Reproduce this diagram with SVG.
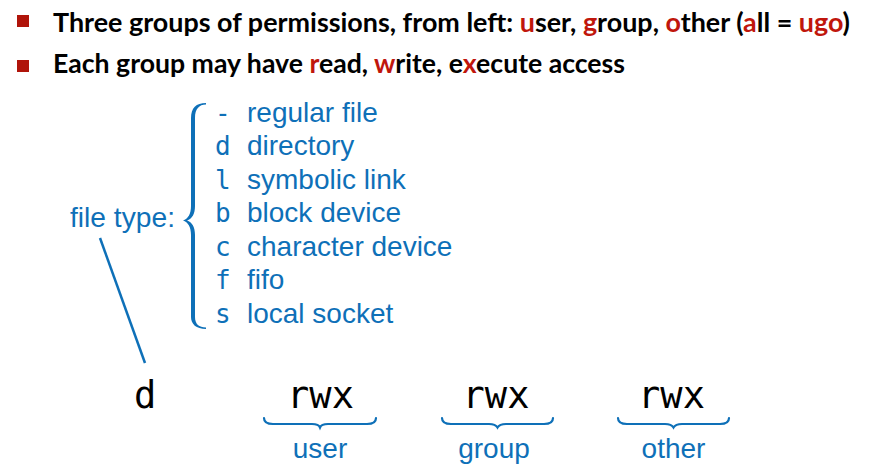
<svg xmlns="http://www.w3.org/2000/svg" width="891" height="469" viewBox="0 0 891 469">
<style>
.hdr{font-family:Lato,"Liberation Sans",sans-serif;font-weight:bold;font-size:26.5px;fill:#000}
.red{fill:#C0160C}
.bul{fill:#B0140A}
.blue{font-family:"Liberation Sans",Arial,sans-serif;font-size:28px;fill:#0E70B8}
.mono{font-family:"DejaVu Sans Mono",monospace;font-size:26px;fill:#0E70B8}
.big{font-family:"DejaVu Sans Mono",monospace;font-size:37px;fill:#000}
.brace{fill:#0E70B8}
.hb{fill:none;stroke:#0E70B8;stroke-width:2.2;stroke-linecap:round}
.conn{stroke:#0E70B8;stroke-width:2.5;fill:none}
</style>
<rect width="891" height="469" fill="#fff"/>
<g id="header">
<rect class="bul" x="17" y="15" width="12" height="12"/>
<rect class="bul" x="17" y="60" width="12" height="12"/>
<text class="hdr" x="53" y="31.5" textLength="797" lengthAdjust="spacingAndGlyphs">Three groups of permissions, from left: <tspan class="red">u</tspan>ser, <tspan class="red">g</tspan>roup, <tspan class="red">o</tspan>ther (<tspan class="red">a</tspan>ll = <tspan class="red">ugo</tspan>)</text>
<text class="hdr" x="53" y="73" textLength="572" lengthAdjust="spacingAndGlyphs">Each group may have <tspan class="red">r</tspan>ead, <tspan class="red">w</tspan>rite, e<tspan class="red">x</tspan>ecute access</text>
</g>
<g id="filetype-label">
<text class="blue" x="70" y="227" textLength="105" lengthAdjust="spacingAndGlyphs">file type:</text>
</g>
<g id="filetype-brace">
<path class="brace" d="M206,103 C196,103 191,108 191,118 L191,206 C191,214 188,219 183,220.5 C188,222 191,227 191,235 L191,317 C191,324 196,329 206,329 L206,327.5 C199,327.5 195,324 195,317 L195,235 C195,227 192,222 187,220.5 C192,219 195,214 195,206 L195,118 C195,109 199,104.5 206,104.5 Z"/>
</g>
<g id="filetype-list">
<text class="mono" x="215" y="121.5">-</text><text class="blue" x="247" y="121.5">regular file</text>
<text class="mono" x="215" y="155">d</text><text class="blue" x="247" y="155">directory</text>
<text class="mono" x="215" y="188.5">l</text><text class="blue" x="247" y="188.5">symbolic link</text>
<text class="mono" x="215" y="222">b</text><text class="blue" x="247" y="222">block device</text>
<text class="mono" x="215" y="255.5">c</text><text class="blue" x="247" y="255.5">character device</text>
<text class="mono" x="215" y="289">f</text><text class="blue" x="247" y="289">fifo</text>
<text class="mono" x="215" y="322.5">s</text><text class="blue" x="247" y="322.5">local socket</text>
</g>
<g id="connectors">
<line class="conn" x1="100" y1="238" x2="145" y2="363"/>
</g>
<g id="type-char">
<text class="big" x="134" y="408">d</text>
</g>
<g id="user">
<text class="big" x="320.5" y="408" text-anchor="middle">rwx</text>
<path class="hb" d="M264,418 C264,422 267,424 273,424 L312,424 C317,424 319,425 320,427.5 C321,425 323,424 328,424 L367,424 C373,424 376,422 376,418"/>
<text class="blue" x="320" y="458" text-anchor="middle">user</text>
</g>
<g id="group">
<text class="big" x="496" y="408" text-anchor="middle">rwx</text>
<path class="hb" d="M442,418 C442,422 445,424 451,424 L489,424 C494,424 496,425 497.5,427.5 C499,425 501,424 506,424 L544,424 C550,424 553,422 553,418"/>
<text class="blue" x="494" y="458" text-anchor="middle">group</text>
</g>
<g id="other">
<text class="big" x="671.5" y="408" text-anchor="middle">rwx</text>
<path class="hb" d="M618,418 C618,422 621,424 627,424 L665,424 C670,424 672,425 673.5,427.5 C675,425 677,424 682,424 L720,424 C726,424 729,422 729,418"/>
<text class="blue" x="673.5" y="458" text-anchor="middle">other</text>
</g>
</svg>
